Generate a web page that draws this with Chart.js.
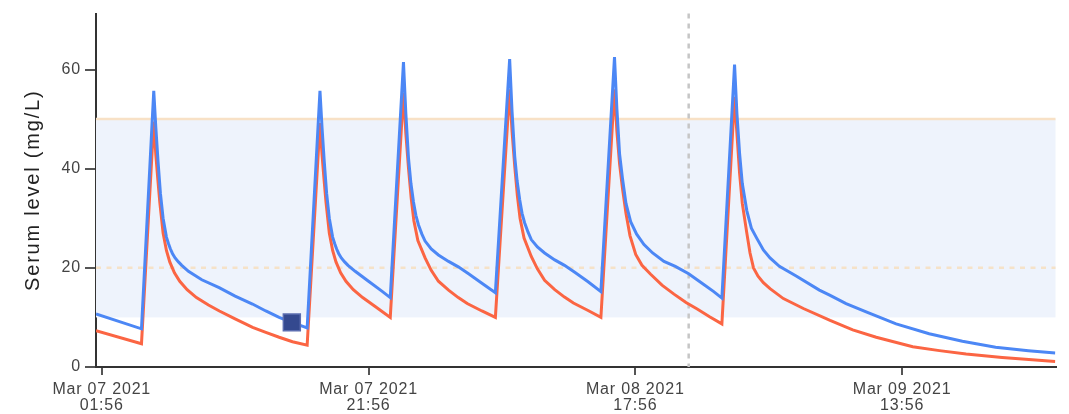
<!DOCTYPE html>
<html>
<head>
<meta charset="utf-8">
<script src="https://cdn.jsdelivr.net/npm/chart.js@4.4.0/dist/chart.umd.min.js"></script>
<style>
  html, body { margin: 0; padding: 0; background: #fff; }
  .wrap { width: 1069px; height: 414px; position: relative; }
</style>
</head>
<body>
<div class="wrap"><canvas id="serumChart"></canvas></div>
<script>
// hours counted from Mar 07 2021 01:56
var blueHours = [-0.43, 2.98, 3.90, 4.05, 4.22, 4.40, 4.60, 4.85, 5.00, 5.15, 5.30, 5.50, 5.75, 6.00, 6.50, 7.50, 8.80, 10.00, 11.30, 12.30, 13.30, 14.25, 15.40,
    16.36, 16.51, 16.68, 16.86, 17.06, 17.31, 17.46, 17.61, 17.76, 17.96, 18.21, 18.46, 19.00, 20.00, 21.00, 21.63,
    22.62, 22.80, 23.00, 23.18, 23.37, 23.55, 23.74, 24.00, 24.24, 24.70, 25.24, 26.00, 26.73, 27.50, 28.50, 29.51,
    30.58, 30.76, 30.96, 31.14, 31.33, 31.51, 31.70, 31.96, 32.20, 32.66, 33.20, 33.96, 34.69, 35.46, 36.46, 37.42,
    38.44, 38.62, 38.82, 39.04, 39.30, 39.65, 40.10, 40.65, 41.30, 42.15, 43.00, 44.00, 45.00, 45.88, 46.49,
    47.44, 47.62, 47.82, 48.02, 48.36, 48.70, 49.10, 49.60, 50.10, 50.80, 52.09, 53.80, 54.57, 55.80, 57.40, 59.55, 62.03, 64.52, 67.01, 69.47, 71.48];
var blueLevels = [10.7, 7.7, 55.7, 48.5, 41.5, 35.0, 30.0, 26.2, 24.9, 23.8, 22.9, 22.0, 21.2, 20.5, 19.3, 17.6, 16.0, 14.3, 12.7, 11.3, 10.0, 9.0, 7.9,
    55.7, 48.5, 41.5, 35.0, 30.0, 26.2, 24.9, 23.8, 22.9, 22.0, 21.2, 20.5, 19.3, 17.3, 15.3, 14.0,
    61.5, 51.0, 42.0, 37.0, 33.3, 30.6, 28.7, 26.8, 25.4, 23.8, 22.6, 21.3, 20.2, 18.8, 16.9, 15.0,
    62.1, 51.5, 42.5, 37.5, 33.8, 31.0, 29.1, 27.2, 25.7, 24.2, 23.0, 21.6, 20.5, 19.1, 17.2, 15.2,
    62.5, 52.0, 43.0, 38.0, 33.0, 29.3, 26.8, 24.7, 23.0, 21.3, 20.3, 18.8, 16.9, 15.2, 13.9,
    61.0, 51.0, 43.0, 37.0, 31.5, 28.0, 26.0, 23.6, 22.0, 20.3, 18.3, 15.5, 14.5, 12.8, 11.0, 8.7, 6.7, 5.2, 4.0, 3.3, 2.8];

var redHours = [-0.43, 2.98, 3.90, 4.05, 4.20, 4.35, 4.60, 4.85, 5.10, 5.45, 5.85, 6.40, 7.10, 8.00, 8.82, 10.00, 11.31, 12.30, 13.30, 14.30, 15.40,
    16.36, 16.51, 16.66, 16.81, 17.06, 17.31, 17.56, 17.91, 18.31, 18.86, 19.56, 20.50, 21.63,
    22.62, 22.80, 23.00, 23.20, 23.40, 23.70, 24.24, 24.70, 25.24, 26.00, 26.73, 27.40, 28.50, 29.51,
    30.58, 30.76, 30.96, 31.16, 31.36, 31.66, 32.20, 32.66, 33.20, 33.96, 34.69, 35.36, 36.46, 37.42,
    38.44, 38.62, 38.82, 39.04, 39.30, 39.60, 40.03, 40.50, 41.15, 42.00, 42.90, 43.80, 44.64, 45.60, 46.49,
    47.44, 47.62, 47.82, 48.02, 48.36, 48.60, 48.86, 49.20, 49.60, 50.10, 51.10, 52.60, 54.60, 56.30, 58.06, 60.80, 62.80, 64.80, 67.50, 69.50, 71.48];
var redLevels = [7.3, 4.7, 49.5, 43.0, 38.0, 33.3, 27.0, 23.5, 21.2, 19.0, 17.3, 15.6, 14.0, 12.5, 11.3, 9.7, 8.0, 7.0, 6.0, 5.1, 4.4,
    49.2, 43.0, 38.0, 33.3, 27.0, 23.5, 21.2, 19.0, 17.3, 15.6, 14.0, 12.2, 10.0,
    55.3, 47.0, 40.0, 34.0, 29.5, 25.5, 22.0, 19.5, 17.3, 15.5, 14.0, 12.8, 11.3, 10.0,
    56.0, 47.5, 40.5, 34.5, 30.0, 26.0, 22.3, 19.8, 17.5, 15.6, 14.1, 12.9, 11.4, 10.0,
    56.0, 47.5, 41.0, 36.0, 31.0, 26.5, 22.7, 20.5, 18.7, 16.5, 14.7, 13.0, 11.7, 10.1, 8.7,
    54.5, 47.0, 39.0, 33.0, 27.0, 23.0, 20.0, 18.3, 17.0, 15.8, 13.8, 11.8, 9.4, 7.5, 6.0, 4.1, 3.3, 2.6, 1.9, 1.5, 1.1];

var measuredHours = [14.25];
var measuredLevels = [9.0];

var targetRange = [10, 50];   // shaded band
var refLevel = 20;            // dotted line
var nowHour = 44.0;           // grey dashed line

var xTickHours = [0, 20, 40, 60];
var xTickDates = ['Mar 07 2021', 'Mar 07 2021', 'Mar 08 2021', 'Mar 09 2021'];
var xTickTimes = ['01:56', '21:56', '17:56', '13:56'];
var yTicks = [0, 20, 40, 60];
var yTitle = 'Serum level (mg/L)';

function toPoints(xs, ys) {
    return xs.map(function (x, i) { return { x: x, y: ys[i] }; });
}

var bandPlugin = {
    id: 'bands',
    beforeDraw: function (chart) {
        chart.ctx.letterSpacing = '0.8px'; // ticks in the original are slightly spaced
    },
    beforeDatasetsDraw: function (chart) {
        var ctx = chart.ctx, a = chart.chartArea;
        var x = chart.scales.x, y = chart.scales.y;
        var yHi = y.getPixelForValue(targetRange[1]);
        var yLo = y.getPixelForValue(targetRange[0]);
        ctx.save();
        ctx.fillStyle = '#eef3fc';
        ctx.fillRect(a.left, yHi, a.right - a.left, yLo - yHi);

        ctx.strokeStyle = '#f8e1c6';
        ctx.lineWidth = 2.5;
        ctx.beginPath();
        ctx.moveTo(a.left, yHi);
        ctx.lineTo(a.right, yHi);
        ctx.stroke();

        var yRef = y.getPixelForValue(refLevel);
        ctx.strokeStyle = '#f5e2c8';
        ctx.setLineDash([5, 5.5]);
        ctx.beginPath();
        ctx.moveTo(a.left, yRef);
        ctx.lineTo(a.right, yRef);
        ctx.stroke();

        var xNow = x.getPixelForValue(nowHour);
        ctx.strokeStyle = '#c6c6c6';
        ctx.setLineDash([5, 5]);
        ctx.beginPath();
        ctx.moveTo(xNow, a.top);
        ctx.lineTo(xNow, a.bottom);
        ctx.stroke();
        ctx.restore();
    },
    afterDraw: function (chart) {
        // y axis title, spaced out like the original
        var ctx = chart.ctx, a = chart.chartArea;
        ctx.save();
        ctx.letterSpacing = '1.8px';
        ctx.font = '20px "Liberation Sans", Arial, sans-serif';
        ctx.fillStyle = '#222';
        ctx.textAlign = 'center';
        ctx.textBaseline = 'middle';
        ctx.translate(33, (a.top + a.bottom) / 2);
        ctx.rotate(-Math.PI / 2);
        ctx.fillText(yTitle, 0, 0);
        ctx.restore();
    }
};

var tickFont = { family: '"Liberation Sans", Arial, sans-serif', size: 16, lineHeight: 1.0 };

new Chart(document.getElementById('serumChart'), {
    type: 'line',
    data: {
        datasets: [{
            type: 'scatter',
            data: toPoints(measuredHours, measuredLevels),
            pointStyle: 'rect',
            pointRadius: 12,
            backgroundColor: '#34498f',
            borderColor: '#5b6db0',
            borderWidth: 1.5
        }, {
            data: toPoints(blueHours, blueLevels),
            borderColor: '#4c87f5',
            borderWidth: 3,
            pointRadius: 0,
            tension: 0,
            fill: false
        }, {
            data: toPoints(redHours, redLevels),
            borderColor: '#fb6543',
            borderWidth: 3,
            pointRadius: 0,
            tension: 0,
            fill: false
        }]
    },
    options: {
        responsive: true,
        maintainAspectRatio: false,
        animation: false,
        layout: { padding: { top: 10, right: 9, left: 0, bottom: 0 } },
        plugins: { legend: { display: false }, tooltip: { enabled: false } },
        scales: {
            x: {
                type: 'linear',
                min: -0.43,
                max: 71.5,
                afterBuildTicks: function (axis) {
                    axis.ticks = xTickHours.map(function (v) { return { value: v }; });
                },
                afterFit: function (axis) { axis.height = 47; },
                grid: { drawOnChartArea: false, drawTicks: true, tickLength: 8, color: '#555', lineWidth: 2 },
                border: { color: '#333', width: 2 },
                ticks: {
                    autoSkip: false,
                    maxRotation: 0,
                    padding: 7,
                    color: '#444',
                    font: tickFont,
                    callback: function (value) {
                        var i = xTickHours.indexOf(value);
                        return i < 0 ? '' : [xTickDates[i], xTickTimes[i]];
                    }
                }
            },
            y: {
                min: 0,
                max: 71.3,
                afterBuildTicks: function (axis) {
                    axis.ticks = yTicks.map(function (v) { return { value: v }; });
                },
                afterFit: function (axis) {
                    axis.width = 96;
                    axis.paddingTop = 0;
                    axis.paddingBottom = 0;
                },
                grid: { drawOnChartArea: false, drawTicks: true, tickLength: 11, color: '#555', lineWidth: 2 },
                border: { color: '#333', width: 2 },
                ticks: { padding: 4, color: '#444', font: tickFont }
            }
        }
    },
    plugins: [bandPlugin]
});
</script>
</body>
</html>
